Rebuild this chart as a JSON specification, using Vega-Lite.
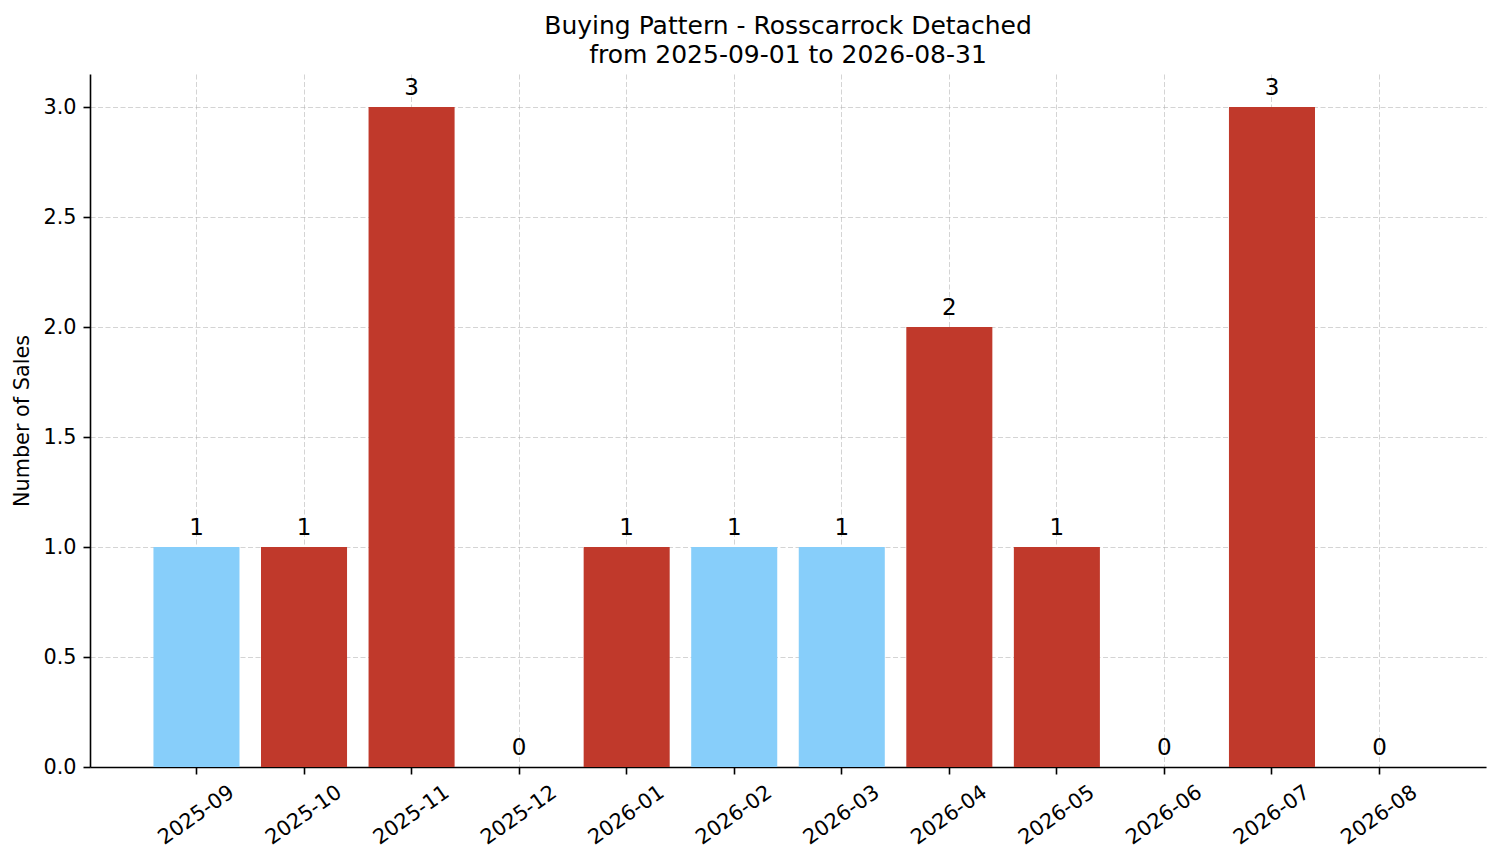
{
  "$schema": "https://vega.github.io/schema/vega-lite/v6.json",
  "width": 1396,
  "height": 693,
  "autosize": {"type": "none"},
  "padding": {"left": 90, "top": 74, "right": 15, "bottom": 96},
  "background": "white",
  "title": {
    "text": ["Buying Pattern - Rosscarrock Detached", "from 2025-09-01 to 2026-08-31"],
    "fontSize": 25,
    "fontWeight": "normal",
    "font": "DejaVu Sans",
    "color": "black",
    "anchor": "middle",
    "lineHeight": 29,
    "offset": 6
  },
  "data": {
    "values": [
      {"month": "2025-09", "sales": 1, "group": "A"},
      {"month": "2025-10", "sales": 1, "group": "B"},
      {"month": "2025-11", "sales": 3, "group": "B"},
      {"month": "2025-12", "sales": 0, "group": "B"},
      {"month": "2026-01", "sales": 1, "group": "B"},
      {"month": "2026-02", "sales": 1, "group": "A"},
      {"month": "2026-03", "sales": 1, "group": "A"},
      {"month": "2026-04", "sales": 2, "group": "B"},
      {"month": "2026-05", "sales": 1, "group": "B"},
      {"month": "2026-06", "sales": 0, "group": "B"},
      {"month": "2026-07", "sales": 3, "group": "B"},
      {"month": "2026-08", "sales": 0, "group": "B"}
    ]
  },
  "encoding": {
    "x": {
      "field": "month", "type": "ordinal", "sort": null,
      "scale": {"paddingInner": 0.2, "paddingOuter": 0.59},
      "axis": {
        "title": null,
        "labelAngle": -35,
        "labelAlign": "center",
        "labelBaseline": "middle",
        "labelPadding": 41
      }
    },
    "y": {
      "field": "sales", "type": "quantitative",
      "scale": {"domain": [0, 3.15], "nice": false, "zero": true},
      "axis": {
        "title": "Number of Sales",
        "values": [0, 0.5, 1, 1.5, 2, 2.5, 3],
        "format": ".1f",
        "labelPadding": 7,
        "titlePadding": 10
      }
    }
  },
  "layer": [
    {
      "mark": {"type": "bar"},
      "encoding": {
        "color": {
          "field": "group", "type": "nominal",
          "scale": {"domain": ["A", "B"], "range": ["#87CEFA", "#C0392B"]},
          "legend": null
        }
      }
    },
    {
      "mark": {"type": "text", "baseline": "alphabetic", "dy": -12, "fontSize": 23, "font": "DejaVu Sans", "color": "black"},
      "encoding": {
        "text": {"field": "sales", "type": "quantitative", "format": "d"}
      }
    }
  ],
  "config": {
    "view": {"stroke": null},
    "font": "DejaVu Sans",
    "axis": {
      "zindex": 1,
      "grid": true,
      "gridColor": "#b0b0b0",
      "gridOpacity": 0.55,
      "gridDash": [5, 2.5],
      "gridWidth": 1,
      "domainColor": "black",
      "domainWidth": 1.6,
      "tickColor": "black",
      "tickWidth": 1.6,
      "tickSize": 7,
      "labelFont": "DejaVu Sans",
      "labelFontSize": 20.8,
      "labelColor": "black",
      "titleFont": "DejaVu Sans",
      "titleFontSize": 20.8,
      "titleFontWeight": "normal",
      "titleColor": "black"
    }
  }
}
